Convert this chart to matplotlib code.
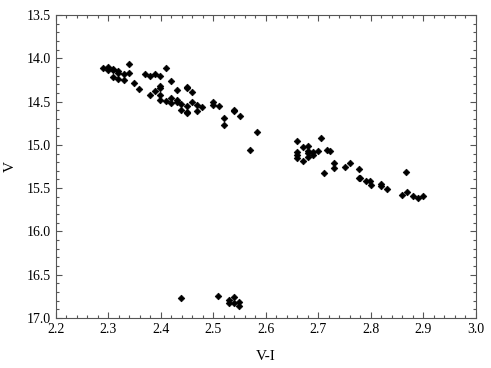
import numpy as np
import matplotlib.pyplot as plt
from matplotlib.ticker import MultipleLocator

# V-I colour and V magnitude
vi = [2.289, 2.300, 2.300, 2.309, 2.309, 2.319, 2.319, 2.330, 2.340, 2.340,
      2.309, 2.319, 2.330, 2.349, 2.359, 2.370, 2.379, 2.389, 2.399, 2.410,
      2.420, 2.379, 2.389, 2.399, 2.399, 2.399, 2.399, 2.410, 2.420, 2.420,
      2.430, 2.430, 2.430, 2.439, 2.439, 2.450, 2.450, 2.450, 2.450, 2.450,
      2.460, 2.460, 2.469, 2.469, 2.479, 2.500, 2.500, 2.510, 2.520, 2.520,
      2.540, 2.540, 2.550, 2.583, 2.570,
      2.660, 2.660, 2.660, 2.660, 2.670, 2.670, 2.680, 2.680, 2.680, 2.680,
      2.690, 2.690, 2.700, 2.705, 2.710, 2.716, 2.722, 2.730, 2.730, 2.750,
      2.761, 2.777, 2.777, 2.780, 2.790, 2.798, 2.800, 2.820, 2.820, 2.830,
      2.867, 2.860, 2.869, 2.880, 2.890, 2.900,
      2.439, 2.509, 2.530, 2.530, 2.540, 2.540, 2.549, 2.549]
v = [14.115, 14.104, 14.135, 14.135, 14.120, 14.143, 14.166, 14.181, 14.066, 14.166,
     14.212, 14.239, 14.251, 14.282, 14.358, 14.181, 14.201, 14.185, 14.204, 14.115,
     14.259, 14.424, 14.374, 14.316, 14.346, 14.424, 14.482, 14.493, 14.462, 14.520,
     14.366, 14.482, 14.508, 14.528, 14.597, 14.328, 14.346, 14.551, 14.617, 14.635,
     14.386, 14.508, 14.539, 14.609, 14.559, 14.508, 14.539, 14.551, 14.689, 14.770,
     14.597, 14.609, 14.666, 14.854, 15.059,
     14.951, 15.085, 15.117, 15.155, 15.021, 15.182, 15.009, 15.067, 15.097, 15.136,
     15.078, 15.117, 15.070, 14.924, 15.328, 15.059, 15.070, 15.205, 15.270, 15.259,
     15.205, 15.282, 15.386, 15.386, 15.413, 15.413, 15.463, 15.455, 15.475, 15.513,
     15.309, 15.579, 15.540, 15.590, 15.610, 15.590,
     16.771, 16.741, 16.791, 16.829, 16.760, 16.829, 16.814, 16.861]

plt.rcParams['font.family'] = 'Liberation Serif'

fig = plt.figure(figsize=(4.91, 3.68), dpi=100)
ax = fig.add_axes([0.114, 0.136, 0.855, 0.823])

ax.plot(vi, v, 'D', color='black', markersize=3.4, markeredgewidth=0.5)

ax.set_xlim(2.2, 3.0)
ax.set_ylim(17.0, 13.5)
ax.xaxis.set_major_locator(MultipleLocator(0.1))
ax.xaxis.set_minor_locator(MultipleLocator(0.02))
ax.yaxis.set_major_locator(MultipleLocator(0.5))
ax.yaxis.set_minor_locator(MultipleLocator(0.1))
ax.xaxis.set_major_formatter(plt.FormatStrFormatter('%.1f'))
ax.yaxis.set_major_formatter(plt.FormatStrFormatter('%.1f'))
ax.tick_params(which='both', direction='in', top=True, right=True,
               labelsize=10, color='#555555', width=0.8)
ax.tick_params(which='major', length=4)
ax.tick_params(which='minor', length=2)
for s in ax.spines.values():
    s.set_color('#555555')

ax.set_xlabel('V-I', fontsize=11, labelpad=10)
ax.set_ylabel('V', fontsize=11, labelpad=7)

fig.savefig('out.png', dpi=100)
